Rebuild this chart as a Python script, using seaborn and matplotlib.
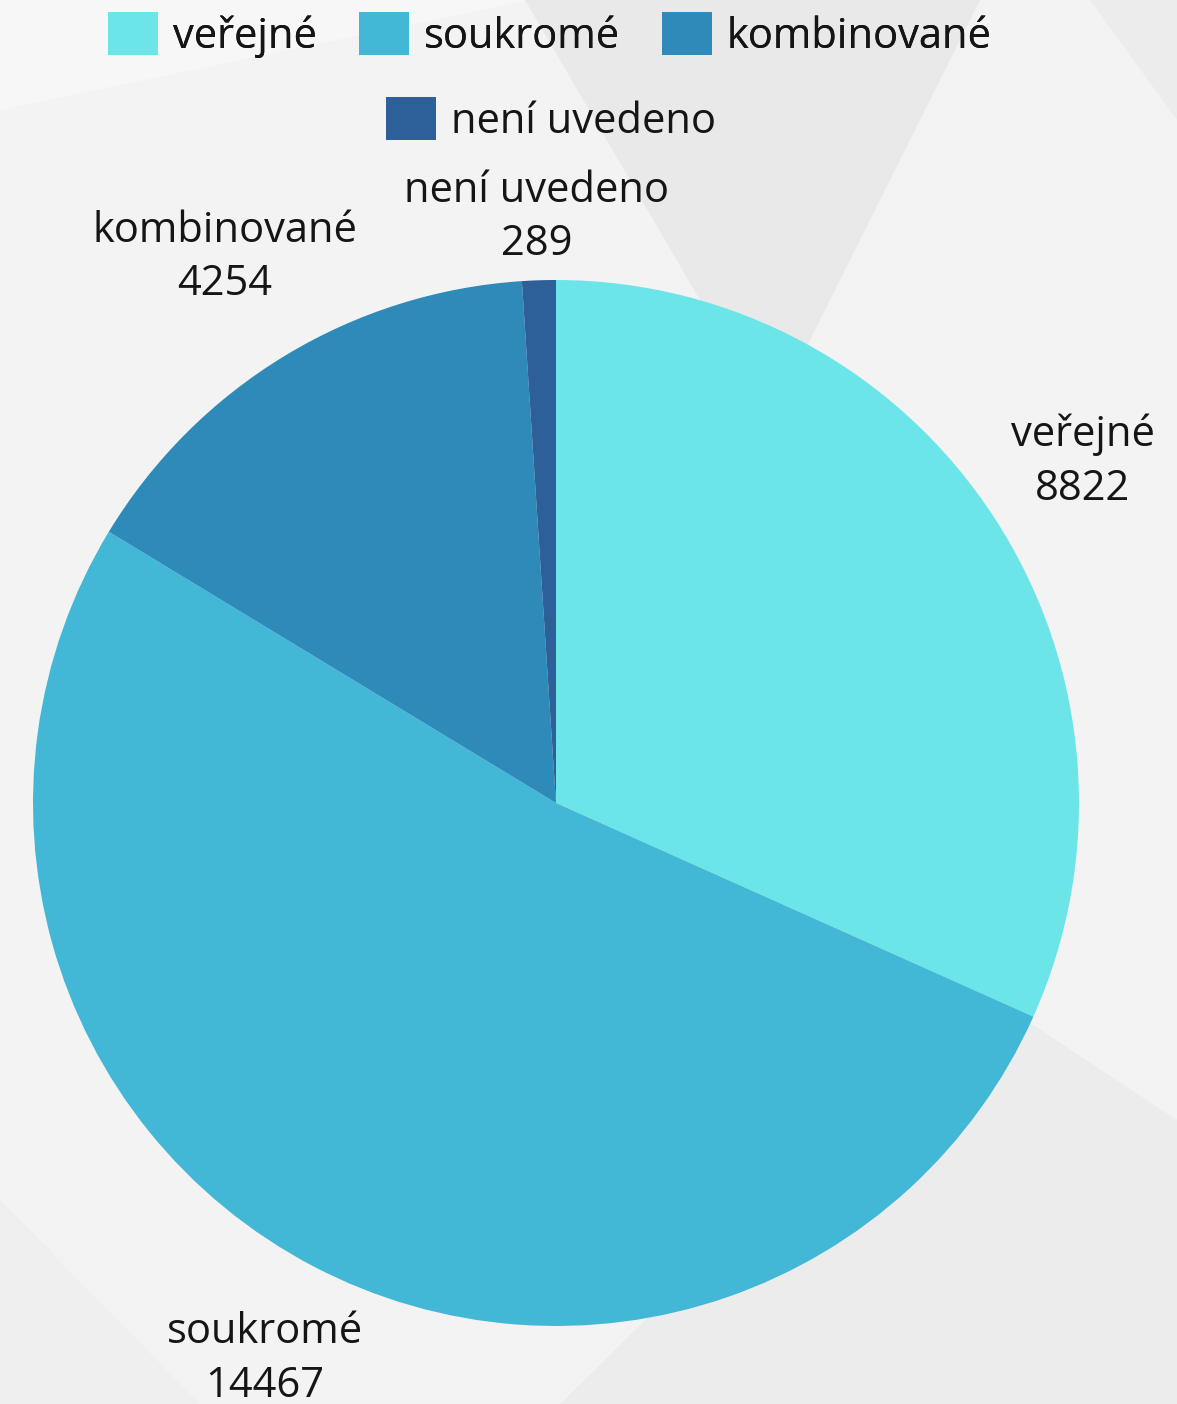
import numpy as np
import matplotlib
matplotlib.use("Agg")
import matplotlib.pyplot as plt
from matplotlib.patches import Patch, Polygon
import seaborn as sns

categories = ["veřejné", "soukromé", "kombinované", "není uvedeno"]
values = [8822, 14467, 4254, 289]
colors = ["#6ce5e8", "#42b7d6", "#2e8ab8", "#2d5f99"]

sns.set_theme(style="white")
plt.rcParams["font.family"] = ["Open Sans", "DejaVu Sans"]

W, H = 1177, 1404
fig = plt.figure(figsize=(W / 100, H / 100), dpi=100)
fig.patch.set_facecolor("#f3f3f3")

# subtle geometric background (behind everything)
bg = fig.add_axes([0, 0, 1, 1], zorder=-10)
bg.set_xlim(0, W)
bg.set_ylim(H, 0)
bg.axis("off")
def poly(pts, color):
    bg.add_patch(Polygon(pts, closed=True, facecolor=color, edgecolor="none"))

poly([(0, 0), (530, 0), (0, 110)], "#f7f7f7")
poly([(525, 0), (980, 0), (770, 420)], "#e9e9e9")
poly([(1090, 0), (1177, 0), (1177, 120)], "#ececec")
poly([(980, 990), (1177, 1120), (1177, 1404), (560, 1404)], "#ececec")
poly([(0, 1200), (200, 1404), (0, 1404)], "#efefef")

cx, cy, r = 556, 803, 523
ax = fig.add_axes([(cx - r) / W, (H - cy - r) / H, 2 * r / W, 2 * r / H], zorder=1)
ax.set_facecolor("none")
wedges, _ = ax.pie(values, colors=colors, startangle=90, counterclock=False,
                   radius=1, wedgeprops=dict(linewidth=0))
ax.set_xlim(-1, 1)
ax.set_ylim(-1, 1)
ax.set_aspect("equal")
ax.axis("off")

label_dist = [1.20, 1.20, 1.22, 1.12]
for w, cat, v, d in zip(wedges, categories, values, label_dist):
    ang = np.deg2rad((w.theta1 + w.theta2) / 2)
    ax.text(d * np.cos(ang), d * np.sin(ang), f"{cat}\n{v}", ha="center", va="center",
            fontsize=30, color="#151515", linespacing=1.36, clip_on=False)

handles = [Patch(facecolor=c, edgecolor="none", label=l) for c, l in zip(colors, categories)]
leg_kw = dict(frameon=False, fontsize=30, handlelength=1.2, handleheight=1.2,
              handletextpad=0.36, columnspacing=1.0, borderpad=0, labelcolor="#151515")
leg1 = fig.legend(handles=handles[:3], ncol=3, loc="center", bbox_to_anchor=(550 / W, 1 - 35 / H), **leg_kw)
fig.add_artist(leg1)
leg2 = fig.legend(handles=handles[3:], ncol=1, loc="center", bbox_to_anchor=(551 / W, 1 - 120 / H), **leg_kw)

fig.savefig("out.png", dpi=100, facecolor=fig.get_facecolor())
